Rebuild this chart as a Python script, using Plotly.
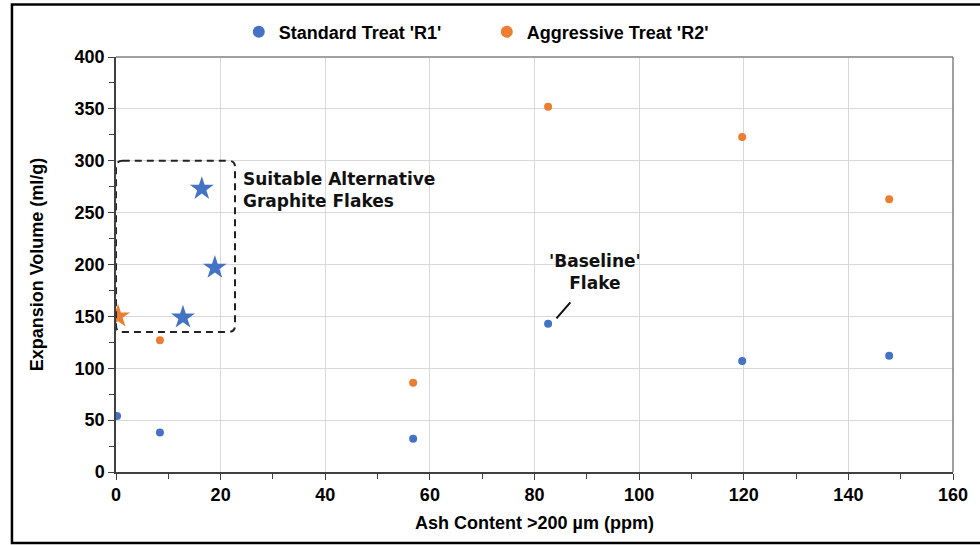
import plotly.graph_objects as go

# Data
r1_x = [0.2, 8.4, 56.8, 82.6, 119.7, 147.8]
r1_y = [54, 38, 32, 143, 107, 112]
r2_x = [8.4, 56.8, 82.6, 119.7, 147.8]
r2_y = [127, 86, 352, 323, 263]
alt_r1_x = [16.4, 18.9, 12.8]
alt_r1_y = [273, 197, 149]
alt_r2_x = [0.4]
alt_r2_y = [150]

BLUE = "#4472C4"
ORANGE = "#ED7D31"
FONT = "Liberation Sans Narrow, Liberation Sans, Arial"

fig = go.Figure()
fig.add_trace(go.Scatter(x=r1_x, y=r1_y, mode="markers", name="Standard Treat 'R1'",
                         marker=dict(color=BLUE, size=8)))
fig.add_trace(go.Scatter(x=r2_x, y=r2_y, mode="markers", name="Aggressive Treat 'R2'",
                         marker=dict(color=ORANGE, size=8)))
fig.add_trace(go.Scatter(x=alt_r1_x, y=alt_r1_y, mode="markers", showlegend=False,
                         marker=dict(color=BLUE, size=18, symbol="star")))
fig.add_trace(go.Scatter(x=alt_r2_x, y=alt_r2_y, mode="markers", showlegend=False,
                         marker=dict(color=ORANGE, size=18, symbol="star")))

# dashed rounded box
x0, x1, y0, y1 = 0.0, 22.75, 135, 300
rx, ry = 1.3, 6
path = (f"M {x0+rx},{y1} L {x1-rx},{y1} Q {x1},{y1} {x1},{y1-ry} "
        f"L {x1},{y0+ry} Q {x1},{y0} {x1-rx},{y0} L {x0+rx},{y0} "
        f"Q {x0},{y0} {x0},{y0+ry} L {x0},{y1-ry} Q {x0},{y1} {x0+rx},{y1} Z")
fig.add_shape(type="path", path=path, xref="x", yref="y",
              line=dict(color="#222222", width=2, dash="7px,5px"))

# plot frame (top/right in gray)
fig.add_shape(type="line", xref="paper", yref="paper", x0=0, x1=1, y0=1, y1=1,
              line=dict(color="#808080", width=1.5))
fig.add_shape(type="line", xref="paper", yref="paper", x0=1, x1=1, y0=0, y1=1,
              line=dict(color="#808080", width=1.5))

# figure border
fig.add_shape(type="rect", xref="paper", yref="paper", x0=-0.1243, x1=1.04,
              y0=-0.1711, y1=1.1265, line=dict(color="black", width=2.5))

fig.add_annotation(x=23.8, y=272, xref="x", yref="y", xanchor="left", yanchor="middle",
                   text="<b>Suitable Alternative<br>Graphite Flakes</b>", showarrow=False,
                   align="left", font=dict(family="DejaVu Sans", size=17, color="#111111"))
fig.add_annotation(x=84.2, y=148, xref="x", yref="y", ax=87.1, ay=165, axref="x", ayref="y",
                   text="", showarrow=True, arrowhead=0, arrowwidth=2, arrowcolor="#111111")
fig.add_annotation(x=91.5, y=193, xref="x", yref="y", xanchor="center", yanchor="middle",
                   text="<b>'Baseline'<br>Flake</b>", showarrow=False, align="center",
                   font=dict(family="DejaVu Sans", size=17, color="#111111"))

tf = dict(family=FONT, size=18, color="black", weight="bold")
fig.update_xaxes(range=[0, 160], tickvals=[0, 20, 40, 60, 80, 100, 120, 140, 160],
                 showgrid=True, gridcolor="#D9D9D9", gridwidth=1,
                 showline=True, linecolor="#404040", linewidth=1.5,
                 ticks="outside", ticklen=6, tickcolor="#404040",
                 minor=dict(dtick=10, ticks="outside", ticklen=5, tickcolor="#404040", showgrid=False),
                 tickfont=tf,
                 title=dict(text="Ash Content >200 µm (ppm)", font=tf, standoff=12),
                 zeroline=False, mirror=False)
fig.update_yaxes(range=[0, 400], tickvals=[0, 50, 100, 150, 200, 250, 300, 350, 400],
                 showgrid=True, gridcolor="#D9D9D9", gridwidth=1,
                 showline=True, linecolor="#404040", linewidth=1.5,
                 ticks="outside", ticklen=6, tickcolor="#404040",
                 minor=dict(dtick=25, ticks="outside", ticklen=5, tickcolor="#404040", showgrid=False),
                 tickfont=tf,
                 title=dict(text="Expansion Volume (ml/g)", font=tf, standoff=26),
                 zeroline=False)

fig.update_layout(width=980, height=545, paper_bgcolor="white", plot_bgcolor="white",
                  margin=dict(l=116, r=27, t=57, b=73, autoexpand=False),
                  font=dict(family=FONT),
                  legend=dict(orientation="h", x=0.443, xanchor="center", y=1.06, yanchor="middle",
                              font=tf, itemsizing="constant", itemwidth=30, entrywidth=203,
                              bgcolor="rgba(0,0,0,0)"),
                  showlegend=True)

fig.write_html("out.html", config={"displayModeBar": False},
               post_script="document.body.style.margin='0';window.dispatchEvent(new Event('resize'));")
